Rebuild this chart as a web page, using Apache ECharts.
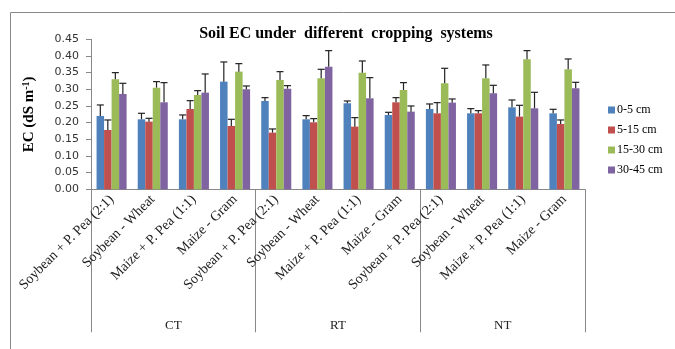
<!DOCTYPE html>
<html>
<head>
<meta charset="utf-8">
<script src="https://cdn.jsdelivr.net/npm/echarts@6/dist/echarts.min.js"></script>
<style>
html, body { margin: 0; padding: 0; background: #fff; }
#chart { width: 675px; height: 349px; }
</style>
</head>
<body>
<div id="chart"></div>
<script>
/*** Soil EC chart ***/
var crops = ['Soybean + P. Pea (2:1)', 'Soybean - Wheat', 'Maize + P. Pea (1:1)', 'Maize - Gram',
	'Soybean + P. Pea (2:1)', 'Soybean - Wheat', 'Maize + P. Pea (1:1)', 'Maize - Gram',
	'Soybean + P. Pea (2:1)', 'Soybean - Wheat', 'Maize + P. Pea (1:1)', 'Maize - Gram'];
var systems = ['CT', 'RT', 'NT'];
var depths = ['0-5 cm', '5-15 cm', '15-30 cm', '30-45 cm'];
var yTicks = ['0.00', '0.05', '0.10', '0.15', '0.20', '0.25', '0.30', '0.35', '0.40', '0.45'];

//平均值
var ec0_5 = [0.220, 0.210, 0.210, 0.323, 0.265, 0.210, 0.258, 0.223, 0.241, 0.228, 0.246, 0.228];
var ec5_15 = [0.178, 0.203, 0.241, 0.190, 0.170, 0.201, 0.188, 0.261, 0.228, 0.228, 0.218, 0.196];
var ec15_30 = [0.330, 0.305, 0.283, 0.353, 0.328, 0.333, 0.350, 0.298, 0.318, 0.333, 0.390, 0.360];
var ec30_45 = [0.286, 0.261, 0.290, 0.300, 0.302, 0.368, 0.273, 0.233, 0.260, 0.288, 0.243, 0.303];
//误差线顶端
var err0_5 = [0.253, 0.228, 0.223, 0.382, 0.275, 0.221, 0.265, 0.231, 0.256, 0.242, 0.268, 0.240];
var err5_15 = [0.208, 0.213, 0.266, 0.210, 0.181, 0.212, 0.215, 0.275, 0.260, 0.236, 0.252, 0.208];
var err15_30 = [0.350, 0.323, 0.296, 0.377, 0.353, 0.360, 0.385, 0.320, 0.363, 0.373, 0.416, 0.391];
var err30_45 = [0.318, 0.320, 0.346, 0.310, 0.311, 0.416, 0.335, 0.250, 0.271, 0.312, 0.291, 0.321];

var colors = ['#4F81BD', '#C0504D', '#9BBB59', '#8064A2'];
var means = [ec0_5, ec5_15, ec15_30, ec30_45];
var errs = [err0_5, err5_15, err15_30, err30_45];
var catGap = 0.27;
var serif = '"Liberation Serif", "Times New Roman", serif';

var series = [];
depths.forEach(function(name, i) {
	series.push({
		name: name,
		type: 'bar',
		barGap: '0%',
		barCategoryGap: (catGap * 100) + '%',
		itemStyle: { color: colors[i] },
		data: means[i]
	});
});
depths.forEach(function(name, i) {
	var data = means[i].map(function(v, k) { return [k, v, errs[i][k]]; });
	series.push({
		type: 'custom',
		silent: true,
		z: 5,
		encode: { x: 0, y: [1, 2] },
		data: data,
		renderItem: function(params, api) {
			var band = api.size([1, 0])[0];
			var barW = band * (1 - catGap) / 4;
			var off = -band * (1 - catGap) / 2 + (i + 0.5) * barW;
			var p0 = api.coord([api.value(0), api.value(1)]);
			var p1 = api.coord([api.value(0), api.value(2)]);
			var x = p0[0] + off;
			var st = { stroke: '#222', lineWidth: 1.2 };
			return {
				type: 'group',
				children: [
					{ type: 'line', shape: { x1: x, y1: p0[1], x2: x, y2: p1[1] }, style: st },
					{ type: 'line', shape: { x1: x - 3.5, y1: p1[1], x2: x + 3.5, y2: p1[1] }, style: st }
				]
			};
		}
	});
});

var chart = echarts.init(document.getElementById('chart'));
var option = {
	animation: false,
	title: {
		text: 'Soil EC under  different  cropping  systems',
		left: 341,
		textAlign: 'center',
		top: 21,
		textStyle: { fontFamily: serif, fontSize: 16, fontWeight: 'bold', color: '#000' }
	},
	graphic: [{
		type: 'rect',
		left: 8,
		top: 10,
		shape: { width: 700, height: 400 },
		style: { fill: 'none', stroke: '#888', lineWidth: 1 },
		silent: true
	}],
	legend: {
		orient: 'vertical',
		left: 603,
		top: 99,
		icon: 'rect',
		itemWidth: 7,
		itemHeight: 7,
		itemGap: 8,
		data: depths,
		textStyle: { fontFamily: serif, fontSize: 12, color: '#000', padding: [0, 0, 0, -3] }
	},
	grid: { left: 91, right: 90, top: 39.3, bottom: 159.7 },
	xAxis: [{
		type: 'category',
		data: crops,
		axisLine: { lineStyle: { color: '#888' } },
		axisTick: { show: false },
		axisLabel: {
			interval: 0,
			rotate: 45,
			margin: 8,
			fontFamily: serif,
			fontSize: 14,
			color: '#222'
		}
	}, {
		type: 'category',
		data: systems,
		position: 'bottom',
		axisLine: { show: false },
		axisTick: { show: true, length: 143, lineStyle: { color: '#888' } },
		axisLabel: { margin: 130, fontFamily: serif, fontSize: 13, color: '#222' }
	}],
	yAxis: {
		type: 'value',
		min: 0,
		max: 0.45,
		interval: 0.05,
		name: 'EC (dS m{sup|-1})',
		nameLocation: 'middle',
		nameGap: 54,
		nameTextStyle: {
			fontFamily: serif, fontSize: 15, fontWeight: 'bold', color: '#000',
			rich: { sup: { fontFamily: serif, fontSize: 10, fontWeight: 'bold', verticalAlign: 'top', padding: [0, 0, 6, 0] } }
		},
		splitLine: { show: false },
		axisLine: { show: true, lineStyle: { color: '#888' } },
		axisTick: { show: true, length: 5, lineStyle: { color: '#888' } },
		axisLabel: {
			margin: 12,
			fontFamily: '"DejaVu Sans", Verdana, sans-serif',
			fontSize: 11,
			color: '#333',
			formatter: function(v) { return yTicks[Math.round(v / 0.05)]; }
		}
	},
	series: series
};
chart.setOption(option);
</script>
</body>
</html>
